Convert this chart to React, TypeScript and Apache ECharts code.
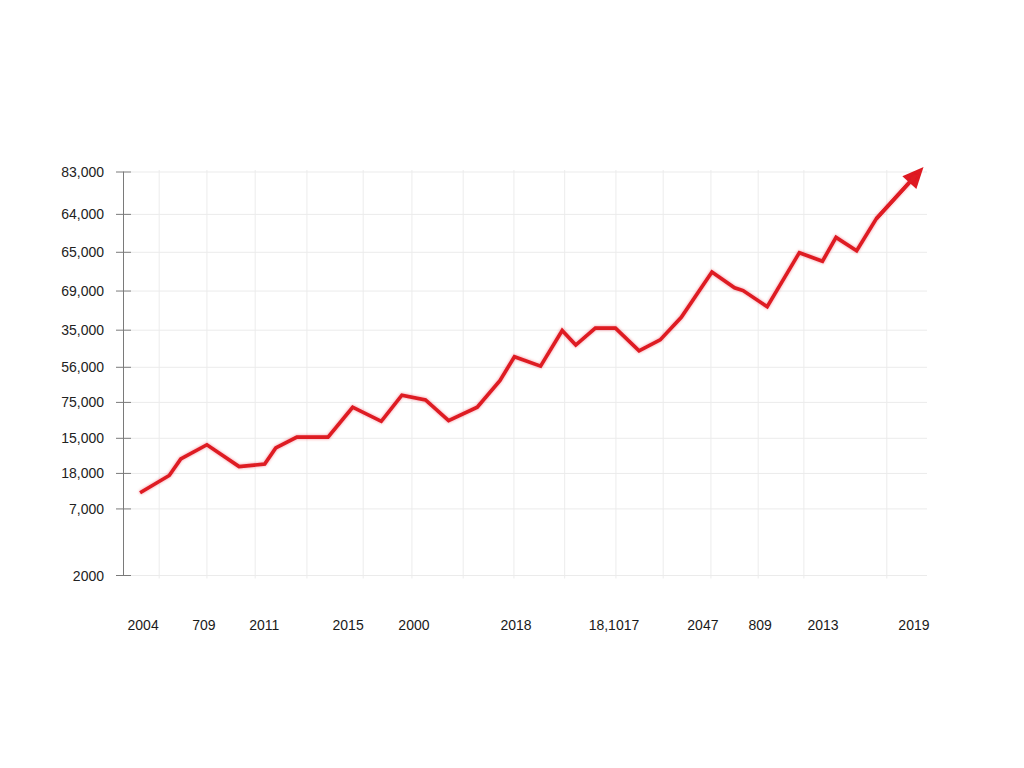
import React, { useEffect, useRef } from "react";
import * as echarts from "echarts";

// Horizontal position of each point along the period axis (0..160) and its level (0..100)
const periods = [
  3.4, 9.2, 11.5, 16.7, 23.1, 28.2, 30.4, 34.6, 40.8, 45.7, 51.4, 55.5, 60.2, 64.8, 70.5, 75.0,
  77.9, 83.1, 87.4, 90.1, 94.0, 98.0, 102.7, 106.9, 111.1, 117.2, 121.7, 123.4, 128.2, 134.6,
  139.2, 141.9, 146.0, 149.9, 157.9,
];
const values = [
  20.5, 24.8, 28.9, 32.4, 27.0, 27.6, 31.6, 34.3, 34.3, 41.7, 38.2, 44.7, 43.5, 38.4, 41.7, 48.3,
  54.2, 51.9, 60.7, 57.1, 61.3, 61.3, 55.7, 58.4, 64.0, 75.2, 71.3, 70.6, 66.6, 80.0,
  77.9, 83.8, 80.5, 88.4, 99.3,
];

// Y tick labels and their levels
const yTickLabels = [
  "83,000", "64,000", "65,000", "69,000", "35,000", "56,000", "75,000", "15,000", "18,000", "7,000", "2000",
];
const yTickLevels = [100, 89.5, 80.1, 70.5, 60.8, 51.6, 42.9, 34.0, 25.3, 16.5, 0];

// X tick labels and their positions
const xLabels = ["2004", "709", "2011", "2015", "2000", "2018", "18,1017", "2047", "809", "2013", "2019"];
const xLabelPositions = [4.0, 16.1, 28.1, 44.8, 57.9, 78.2, 97.7, 115.4, 126.8, 139.3, 157.4];

// Vertical grid line positions
const xGridPositions = [
  7.2, 16.7, 26.3, 36.6, 47.8, 57.5, 67.7, 77.8, 87.9, 98.1, 107.5, 117.0, 126.4, 135.5, 152.0,
];

const X_MIN = 0;
const X_MAX = 160;
const Y_MIN = 0;
const Y_MAX = 100;

const FONT = "'Liberation Sans', Arial, sans-serif";
const RED = "#de1a22";

export default function App() {
  const ref = useRef<HTMLDivElement>(null);

  useEffect(() => {
    if (!ref.current) return;
    const chart = echarts.init(ref.current, null, { renderer: "svg" });

    const lineData = periods.map((p, i) => [p, values[i]]);
    const n = lineData.length;

    chart.setOption({
      animation: false,
      backgroundColor: "#ffffff",
      grid: { left: 123, right: 97, top: 172, bottom: 192.5, containLabel: false },
      xAxis: {
        type: "value",
        min: X_MIN,
        max: X_MAX,
        axisLine: { show: false },
        axisTick: { show: false },
        axisLabel: { show: false },
        splitLine: { show: false },
      },
      yAxis: {
        type: "value",
        min: Y_MIN,
        max: Y_MAX,
        axisLine: { show: true, lineStyle: { color: "#7a7a7a", width: 1 } },
        axisTick: { show: false },
        axisLabel: { show: false },
        splitLine: { show: false },
      },
      series: [
        {
          type: "custom",
          name: "vgrid",
          coordinateSystem: "cartesian2d",
          clip: false,
          silent: true,
          z: 1,
          data: xGridPositions.map((x) => [x, 0]),
          renderItem: (params: any, api: any) => {
            const x = api.value(0);
            const b = api.coord([x, Y_MIN]);
            const t = api.coord([x, Y_MAX]);
            return {
              type: "line",
              shape: { x1: b[0], y1: b[1] + 3, x2: t[0], y2: t[1] - 2 },
              style: { stroke: "#ececec", lineWidth: 1 },
            };
          },
        },
        {
          type: "custom",
          name: "yticks",
          coordinateSystem: "cartesian2d",
          clip: false,
          silent: true,
          z: 2,
          data: yTickLevels.map((v, i) => [X_MIN, v, i]),
          renderItem: (params: any, api: any) => {
            const v = api.value(1);
            const i = api.value(2);
            const p0 = api.coord([X_MIN, v]);
            const p1 = api.coord([X_MAX, v]);
            return {
              type: "group",
              children: [
                {
                  type: "line",
                  shape: { x1: p0[0] + 8, y1: p0[1], x2: p1[0], y2: p1[1] },
                  style: { stroke: "#ebebeb", lineWidth: 1 },
                },
                {
                  type: "line",
                  shape: { x1: p0[0] - 7, y1: p0[1], x2: p0[0] + 8, y2: p0[1] },
                  style: { stroke: "#7a7a7a", lineWidth: 1 },
                },
                {
                  type: "text",
                  x: p0[0] - 19,
                  y: p0[1],
                  style: {
                    text: yTickLabels[i],
                    align: "right",
                    verticalAlign: "middle",
                    fontSize: 14,
                    fill: "#222222",
                    fontFamily: FONT,
                  },
                },
              ],
            };
          },
        },
        {
          type: "custom",
          name: "xlabels",
          coordinateSystem: "cartesian2d",
          clip: false,
          silent: true,
          z: 2,
          data: xLabelPositions.map((x, i) => [x, Y_MIN, i]),
          renderItem: (params: any, api: any) => {
            const x = api.value(0);
            const i = api.value(2);
            const p = api.coord([x, Y_MIN]);
            return {
              type: "text",
              x: p[0],
              y: p[1] + 49,
              style: {
                text: xLabels[i],
                align: "center",
                verticalAlign: "middle",
                fontSize: 14,
                fill: "#1a1a1a",
                fontFamily: FONT,
              },
            };
          },
        },
        {
          type: "line",
          name: "value",
          data: lineData,
          z: 5,
          symbol: "none",
          clip: false,
          lineStyle: {
            color: RED,
            width: 3.6,
            join: "miter",
            shadowColor: "rgba(230,30,40,0.45)",
            shadowBlur: 3,
          },
          markLine: {
            silent: true,
            symbol: ["none", "triangle"],
            symbolSize: [19, 21],
            label: { show: false },
            lineStyle: { color: RED, width: 3.6, type: "solid" },
            itemStyle: { color: RED },
            data: [
              [
                { coord: lineData[n - 2] },
                { coord: lineData[n - 1] },
              ],
            ],
          },
        },
      ],
    });

    return () => chart.dispose();
  }, []);

  return (
    <div
      ref={ref}
      style={{ position: "fixed", left: 0, top: 0, width: 1024, height: 768, background: "#ffffff" }}
    />
  );
}
